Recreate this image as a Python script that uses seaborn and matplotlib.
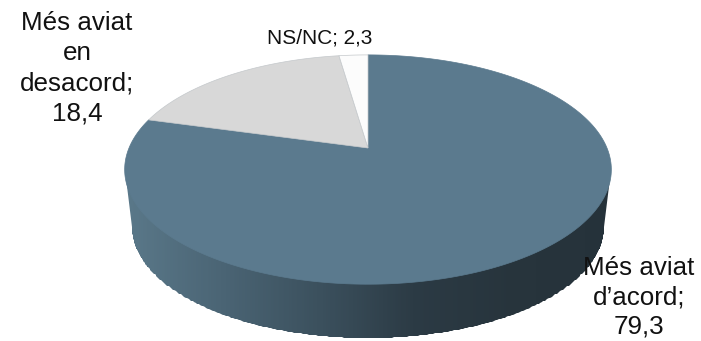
import numpy as np
import seaborn as sns
import matplotlib.pyplot as plt
from matplotlib.patches import Polygon

sns.set_theme(style="white")
plt.rcParams["font.family"] = ["Liberation Sans", "DejaVu Sans"]

#chart values
labels = ["Més aviat\nd’acord;\n79,3", "Més aviat\nen\ndesacord;\n18,4", "NS/NC; 2,3"]
values = [79.3, 18.4, 2.3]
colors = ["#5b7a8e", "#d8d8d8", "#fcfcfc"]
side_colors = ["#5a7889", "#4a6474", "#3b505d", "#2b3a44", "#27343c", "#25323a"]

#pie geometry in pixels, the pie is drawn in perspective
cx, cy = 368, 148
a, b, k = 239, 110.6, 0.188
depth = 58
shrink = 0.97


def project(theta, scale=1.0, drop=0.0):
    #theta is clockwise from 12 o'clock, goes from the flat disc to the screen
    u = np.sin(theta)
    v = np.cos(theta)
    w = 1 + k * v
    return cx + scale * a * u / w, cy + drop - scale * b * v / w


fig = plt.figure(figsize=(7.01, 3.41), dpi=100)
ax = fig.add_axes([0, 0, 1, 1])

#side of the pie, outline runs from the left of the top disc round the lower disc
ang = np.linspace(np.pi / 2, 3 * np.pi / 2, 400)
top_x, top_y = project(ang)
low_x, low_y = project(ang, shrink, depth)
left = np.argmin(top_x)
right = np.argmax(top_x)
low_left = np.argmin(low_x)
low_right = np.argmax(low_x)
outline = np.c_[np.r_[top_x[right], low_x[low_right:low_left + 1], top_x[left]],
                np.r_[top_y[right], low_y[low_right:low_left + 1], top_y[left]]]
side = Polygon(outline, closed=True, transform=ax.transData, facecolor="none", edgecolor="none")
ax.add_patch(side)

#gradient going dark to the right, clipped to the side outline
cmap = sns.blend_palette(side_colors, as_cmap=True)
xs = np.linspace(top_x.min(), top_x.max(), 300)
grad = np.linspace(0, 1, len(xs) - 1).reshape(1, -1)
mesh = ax.pcolormesh(xs, [top_y.min() - 130, low_y.max() + 5], grad, cmap=cmap, zorder=1, rasterized=True)
mesh.set_clip_path(side)

#top of the pie, slices follow the values clockwise from 12 o'clock
start = 0.0
total = sum(values)
for val, col in zip(values, colors):
    end = start + val / total * 2 * np.pi
    t = np.linspace(start, end, 300)
    px, py = project(t)
    ax.fill(np.r_[cx, px], np.r_[cy, py], facecolor=col,
            edgecolor="#c4c8cb" if col != colors[0] else col, lw=0.5, zorder=2)
    start = end

#labels
ax.text(639, 297, labels[0], ha="center", va="center", fontsize=18.7, color="#111111", linespacing=1.27, zorder=3)
ax.text(77, 68, labels[1], ha="center", va="center", fontsize=18.7, color="#111111", linespacing=1.32, zorder=3)
ax.text(320, 38, labels[2], ha="center", va="center", fontsize=15, color="#111111", zorder=3)

ax.set_xlim(0, 701)
ax.set_ylim(341, 0)
ax.axis("off")

fig.savefig("out.png", dpi=100)
